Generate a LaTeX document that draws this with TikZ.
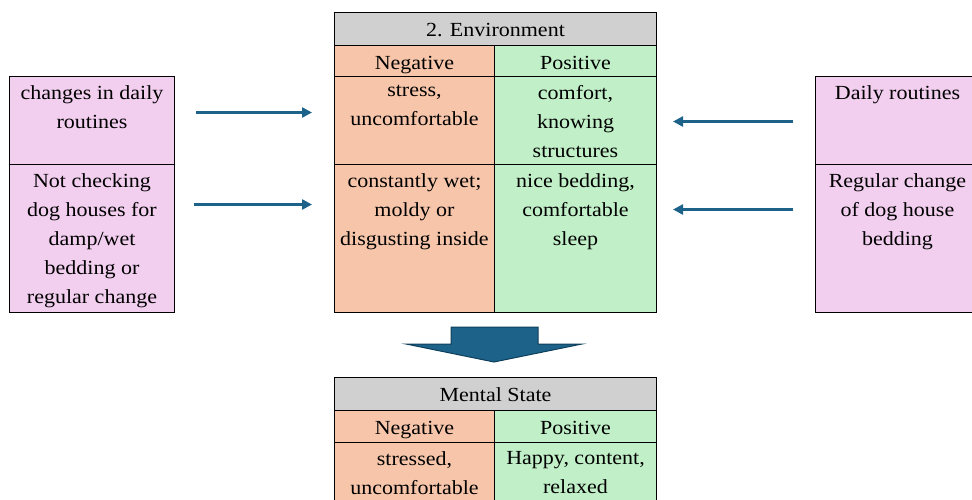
\documentclass[tikz,border=0pt]{standalone}
\usepackage{fontspec}
\setmainfont{Liberation Serif}[FakeStretch=1.1]
\usetikzlibrary{arrows.meta,positioning}
\definecolor{causebg}{HTML}{F2CEEF}
\definecolor{negbg}{HTML}{F7C6AA}
\definecolor{posbg}{HTML}{C1F0C8}
\definecolor{headbg}{HTML}{D0D0D0}
\definecolor{flow}{HTML}{1D6389}
\definecolor{flowdk}{HTML}{0E3F5C}
\newcommand{\cellfont}{\fontsize{20}{29}\selectfont}
\tikzset{
  cell/.style={draw=black, line width=1pt, anchor=north west, align=center,
               inner xsep=2pt, inner ysep=0pt, font=\cellfont},
  headcell/.style={cell, text height=24pt},
  causecell/.style={cell, fill=causebg},
  negcell/.style={cell, fill=negbg},
  poscell/.style={cell, fill=posbg},
  titlecell/.style={cell, fill=headbg},
  txt/.style={anchor=north, align=center, inner sep=0pt, yshift=-9pt, font=\cellfont},
  ar/.style={-{Triangle[length=10pt,width=10pt]}, line width=2.4pt, draw=flow},
  bigarrow/.style={fill=flow, draw=flowdk, line width=1pt, line join=miter}
}
\begin{document}
\begin{tikzpicture}[x=1pt,y=-1pt]
  \useasboundingbox (0,0) rectangle (972,499);

  % environment table
  \node[titlecell, headcell, minimum width=322pt, text depth=9pt] (envT) at (334,12) {2. Environment};
  \node[negcell, headcell, minimum width=160pt, text depth=7pt] (envN) at (334,45) {Negative};
  \node[poscell, headcell, minimum width=162pt, text depth=7pt] (envP) at (494,45) {Positive};
  \node[negcell, minimum width=160pt, minimum height=88pt] (envN1) at (334,76) {};
  \node[poscell, minimum width=162pt, minimum height=88pt] (envP1) at (494,76) {};
  \node[negcell, minimum width=160pt, minimum height=148pt] (envN2) at (334,164) {};
  \node[poscell, minimum width=162pt, minimum height=148pt] (envP2) at (494,164) {};
  \node[txt] (envN1t) at (envN1.north) {stress,\\uncomfortable};
  \node[txt] (envP1t) at (envP1.north) {comfort,\\knowing\\structures};
  \node[txt] (envN2t) at (envN2.north) {constantly wet;\\moldy or\\disgusting inside};
  \node[txt] (envP2t) at (envP2.north) {nice bedding,\\comfortable\\sleep};

  % causes
  \node[causecell, minimum width=165pt, minimum height=88pt] (negC1) at (9,76) {};
  \node[causecell, minimum width=165pt, minimum height=148pt] (negC2) at (9,164) {};
  \node[causecell, minimum width=164pt, minimum height=88pt] (posC1) at (815,76) {};
  \node[causecell, minimum width=164pt, minimum height=148pt] (posC2) at (815,164) {};
  \node[txt] (negC1t) at (negC1.north) {changes in daily\\routines};
  \node[txt] (negC2t) at (negC2.north) {Not checking\\dog houses for\\damp/wet\\bedding or\\regular change};
  \node[txt] (posC1t) at (posC1.north) {Daily routines};
  \node[txt] (posC2t) at (posC2.north) {Regular change\\of dog house\\bedding};

  \draw[ar, shorten <=21pt, shorten >=22pt] ([yshift=8pt]negC1.east) -- ([yshift=8pt]envN1.west);
  \draw[ar, shorten <=19pt, shorten >=22pt] ([yshift=34pt]negC2.east) -- ([yshift=34pt]envN2.west);
  \draw[ar, shorten <=22pt, shorten >=16pt] ([yshift=-1pt]posC1.west) -- ([yshift=-1pt]envP1.east);
  \draw[ar, shorten <=22pt, shorten >=16pt] ([yshift=29pt]posC2.west) -- ([yshift=29pt]envP2.east);

  % down arrow
  \draw[bigarrow] (451,327) -- (538,327) -- (538,344) -- (582,344) -- (494,362)
    -- (406,344) -- (451,344) -- cycle;

  % mental state table
  \node[titlecell, headcell, minimum width=322pt, text depth=9pt] (msT) at (334,377) {Mental State};
  \node[negcell, headcell, minimum width=160pt, text depth=8pt] (msN) at (334,410) {Negative};
  \node[poscell, headcell, minimum width=162pt, text depth=8pt] (msP) at (494,410) {Positive};
  \node[negcell, minimum width=160pt, minimum height=74pt] (msN1) at (334,442) {};
  \node[poscell, minimum width=162pt, minimum height=74pt] (msP1) at (494,442) {};
  \node[txt] (msN1t) at (msN1.north) {stressed,\\uncomfortable};
  \node[txt] (msP1t) at (msP1.north) {Happy, content,\\relaxed};
\end{tikzpicture}
\end{document}
